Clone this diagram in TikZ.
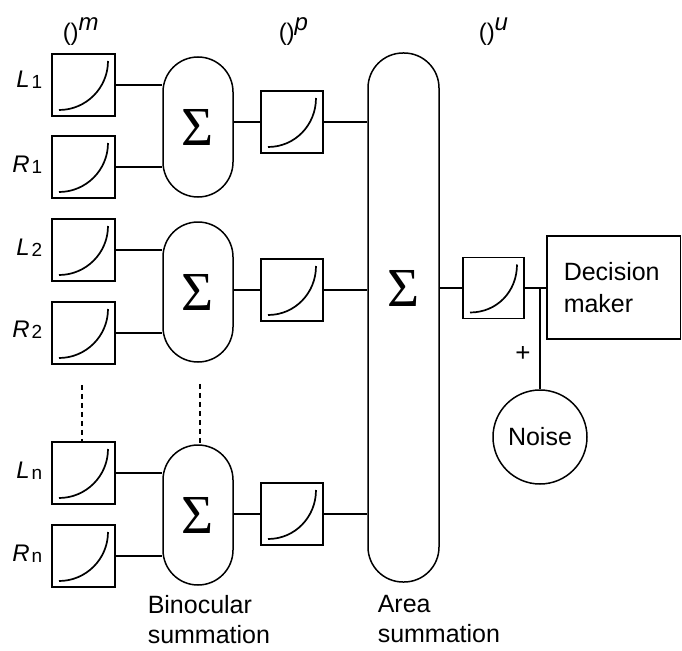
\documentclass[tikz,border=0pt]{standalone}
\usepackage{fontspec}
\setmainfont{Liberation Sans}
\newfontfamily\sigmafont{Liberation Serif}
\usetikzlibrary{calc}
\tikzset{
  every picture/.style={line width=1.5pt},
  curvebox/.style={draw, line width=1.5pt, minimum width=63pt, minimum height=62pt, inner sep=0pt,
    path picture={\draw[line width=1.7pt] ([shift={(7pt,6pt)}]path picture bounding box.south west)
      .. controls +(27pt,0pt) and +(0pt,-27pt) .. ([shift={(-7pt,-7pt)}]path picture bounding box.north east);}},
  pbox/.style={curvebox, minimum width=62pt, minimum height=62pt},
  pill/.style={draw, rounded corners=35pt, minimum width=70pt, minimum height=140pt, inner sep=0pt,
    font=\sigmafont\fontsize{55}{55}\selectfont},
  sigmatext/.style={inner sep=0pt, font=\sigmafont\fontsize{55}{55}\selectfont},
  eyelabel/.style={anchor=base east, inner sep=0pt, font=\fontsize{24}{24}\selectfont},
  toplabel/.style={anchor=base west, inner sep=0pt, font=\fontsize{24}{24}\selectfont},
  caption/.style={anchor=north west, inner sep=0pt, align=left, font=\fontsize{25}{30}\selectfont},
  dotline/.style={line width=2.6pt, dash pattern=on 5pt off 4pt},
}
\newcommand{\eyel}[2]{\textit{#1}\hspace{2pt}{\fontsize{19}{19}\selectfont\raisebox{-1pt}{#2}}}
\newcommand{\powl}[1]{()\raisebox{10pt}{\textit{#1}}}
\begin{document}
\begin{tikzpicture}[x=1pt, y=-1pt]
\useasboundingbox (0,0) rectangle (682,650);
% input boxes
\node[curvebox] (L1) at (83.5,85) {};
\node[curvebox] (R1) at (83.5,167) {};
\node[curvebox] (L2) at (83.5,250) {};
\node[curvebox] (R2) at (83.5,333) {};
\node[curvebox] (Ln) at (83.5,473) {};
\node[curvebox] (Rn) at (83.5,556) {};
% eye labels
\node[eyelabel] (tL1) at (43,88) {\eyel{L}{1}};
\node[eyelabel] (tR1) at (43,172) {\eyel{R}{1}};
\node[eyelabel] (tL2) at (43,255) {\eyel{L}{2}};
\node[eyelabel] (tR2) at (43,337) {\eyel{R}{2}};
\node[eyelabel] (tLn) at (43,478) {\eyel{L}{n}};
\node[eyelabel] (tRn) at (43,561) {\eyel{R}{n}};
% binocular sums
\node[pill] (S1) at (198,127) {Σ};
\node[pill] (S2) at (198,292) {Σ};
\node[pill] (Sn) at (198,515) {Σ};
% p boxes
\node[pbox] (P1) at (292,122) {};
\node[pbox] (P2) at (292,290) {};
\node[pbox] (Pn) at (292,514) {};
% area sum
\node[pill, minimum width=71pt, minimum height=529pt] (A) at (403.5,317.5) {};
% u box
\node[pbox, minimum width=61pt, minimum height=61pt] (U) at (493.5,288) {};
\node[sigmatext] (AS) at (A.center |- U) {Σ};
% decision maker
\node[draw, minimum width=133.5pt, minimum height=103pt, inner sep=0pt] (D) at (613.75,287.5) {};
\node[anchor=base west, inner sep=0pt, align=left, font=\fontsize{25}{32}\selectfont] (Dt) at (563,312) {Decision\\maker};
% noise
\node[draw, circle, minimum size=94pt, inner sep=0pt, font=\fontsize{25}{25}\selectfont] (N) at (540,437) {Noise};
\coordinate (J) at (N.north |- U);
\node[inner sep=0pt, font=\fontsize{26}{26}\selectfont] (plus) at (523,354) {+};
% top labels
\node[toplabel] (m) at (62,41) {\powl{m}};
\node[toplabel] (p) at (278,41) {\powl{p}};
\node[toplabel] (u) at (478,41) {\powl{u}};
% captions
\node[caption] (bin) at (147,595) {Binocular\\summation};
\node[caption] (area) at (377,595) {Area\\summation};
% connectors
\draw (L1.east) -- (L1 -| S1.west);
\draw (R1.east) -- (R1 -| S1.west);
\draw (L2.east) -- (L2 -| S2.west);
\draw (R2.east) -- (R2 -| S2.west);
\draw (Ln.east) -- (Ln -| Sn.west);
\draw (Rn.east) -- (Rn -| Sn.west);
\draw (S1.east |- P1) -- (P1.west);
\draw (S2.east |- P2) -- (P2.west);
\draw (Sn.east |- Pn) -- (Pn.west);
\draw (P1.east) -- (P1 -| A.west);
\draw (P2.east) -- (P2 -| A.west);
\draw (Pn.east) -- (Pn -| A.west);
\draw (A.east |- U) -- (U.west);
\draw (U.east) -- (U -| D.west);
\draw (J) -- (N.north);
\draw[dotline] ($(R2.south)+(-1.5,20)$) -- ($(Ln.north)+(-1.5,0)$);
\draw[dotline] ($(S2.south)+(2,21)$) -- ($(Sn.north)+(2,0)$);
\end{tikzpicture}
\end{document}
